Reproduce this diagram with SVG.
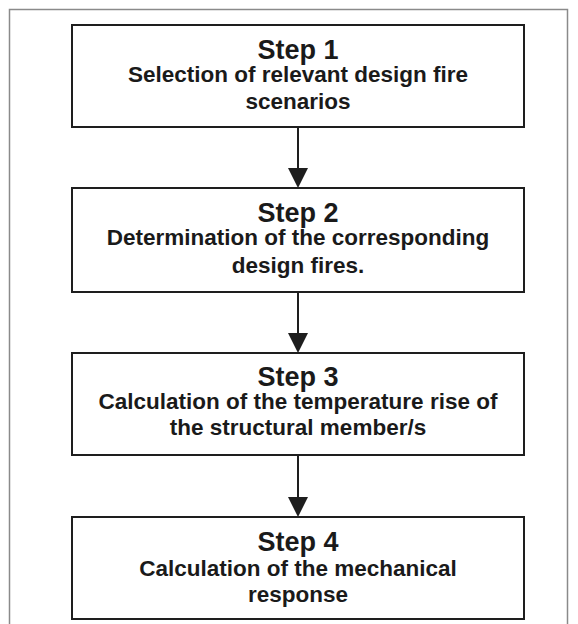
<svg xmlns="http://www.w3.org/2000/svg" width="578" height="624" viewBox="0 0 578 624">
  <style>
    .frame { fill: none; stroke: #8a8a8a; stroke-width: 1.5; }
    .box { fill: #ffffff; stroke: #1e1e1e; stroke-width: 2; }
    .step { font-family: "Liberation Sans", Arial, sans-serif; font-weight: bold; font-size: 27px; fill: #1a1a1a; text-anchor: middle; }
    .body { font-family: "Liberation Sans", Arial, sans-serif; font-weight: bold; font-size: 22.5px; fill: #1a1a1a; text-anchor: middle; }
    .conn { stroke: #1e1e1e; stroke-width: 2; fill: none; }
    .head { fill: #1e1e1e; }
  </style>
  <rect width="578" height="624" fill="#ffffff"/>
  <rect class="frame" x="9.5" y="9.5" width="558" height="640"/>

  <g id="connectors">
    <line class="conn" x1="298" y1="127" x2="298" y2="170"/>
    <polygon class="head" points="288,168 308,168 298,188"/>
    <line class="conn" x1="298" y1="292" x2="298" y2="335"/>
    <polygon class="head" points="288,333 308,333 298,353"/>
    <line class="conn" x1="298" y1="455" x2="298" y2="500"/>
    <polygon class="head" points="288,497 308,497 298,517"/>
  </g>

  <g id="step1">
    <rect class="box" x="72" y="25" width="452" height="102"/>
    <text class="step" x="298" y="59">Step 1</text>
    <text class="body" x="298" y="82">Selection of relevant design fire</text>
    <text class="body" x="298" y="109">scenarios</text>
  </g>

  <g id="step2">
    <rect class="box" x="72" y="188" width="452" height="104"/>
    <text class="step" x="298" y="222">Step 2</text>
    <text class="body" x="298" y="245">Determination of the corresponding</text>
    <text class="body" x="298" y="273">design fires.</text>
  </g>

  <g id="step3">
    <rect class="box" x="72" y="353" width="452" height="102"/>
    <text class="step" x="298" y="386">Step 3</text>
    <text class="body" x="298" y="409">Calculation of the temperature rise of</text>
    <text class="body" x="298" y="435">the structural member/s</text>
  </g>

  <g id="step4">
    <rect class="box" x="72" y="517" width="452" height="102"/>
    <text class="step" x="298" y="551">Step 4</text>
    <text class="body" x="298" y="576">Calculation of the mechanical</text>
    <text class="body" x="298" y="602">response</text>
  </g>
</svg>
